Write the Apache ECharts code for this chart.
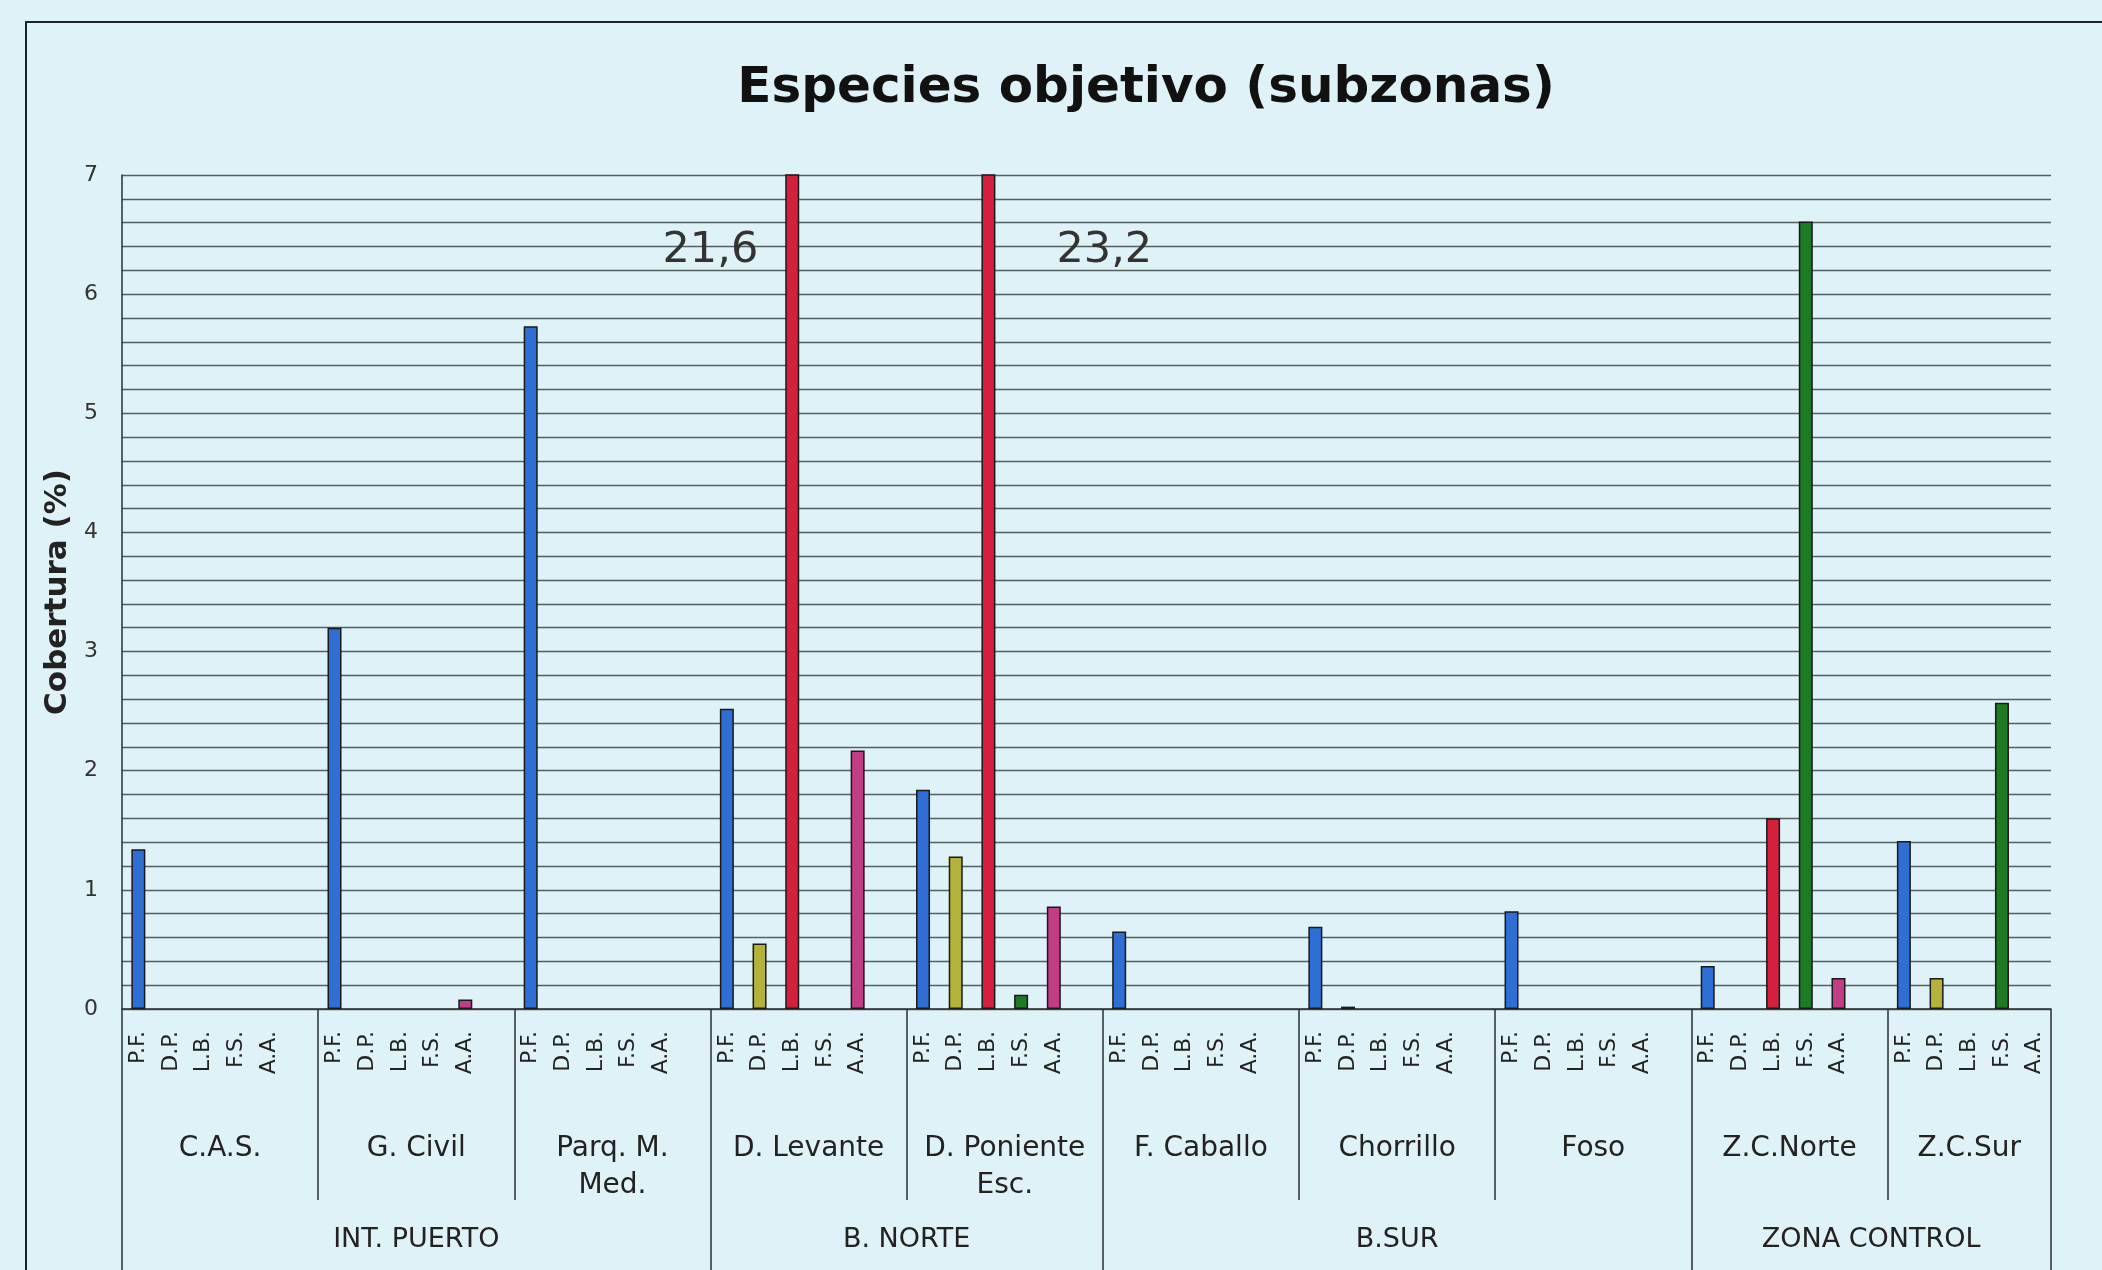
<!DOCTYPE html>
<html>
<head>
<meta charset="utf-8">
<title>Especies objetivo (subzonas)</title>
<script src="https://cdn.jsdelivr.net/npm/echarts@6/dist/echarts.min.js"></script>
<style>
  html, body { margin: 0; padding: 0; background: #dff2f7; }
  #chart { width: 2102px; height: 1270px; }
</style>
</head>
<body>
<div id="chart"></div>
<script>
// species codes shown under each bar
const species = ['P.F.', 'D.P.', 'L.B.', 'F.S.', 'A.A.'];
const speciesColors = ['#2f6fd4', '#b4b23a', '#d3213d', '#1d7a25', '#c23c86'];

// subzones (second row) and zones (third row)
const subzones = ['C.A.S.', 'G. Civil', 'Parq. M.\nMed.', 'D. Levante', 'D. Poniente\nEsc.',
  'F. Caballo', 'Chorrillo', 'Foso', 'Z.C.Norte', 'Z.C.Sur'];
const zones = ['INT. PUERTO', 'B. NORTE', 'B.SUR', 'ZONA CONTROL'];
const subzonesPerZone = [3, 2, 3, 2];

// cobertura (%) per species, one value per subzone
const pf = [1.34, 3.20, 5.73, 2.52, 1.84, 0.65, 0.69, 0.82, 0.36, 1.41];
const dp = [0, 0, 0, 0.55, 1.28, 0, 0.02, 0, 0, 0.26];
const lb = [0, 0, 0, 21.6, 23.2, 0, 0, 0, 1.60, 0];
const fs = [0, 0, 0, 0, 0.12, 0, 0, 0, 6.61, 2.57];
const aa = [0, 0.08, 0, 2.17, 0.86, 0, 0, 0, 0.26, 0];

const yTicks = [0, 1, 2, 3, 4, 5, 6, 7];
const yMax = 7;

const values = [pf, dp, lb, fs, aa];
// side where the value of a bar taller than the axis is written
const overflowSides = ['left', 'right'];

// one category per bar, plus an empty slot between subzones
const categories = [];
const barData = [];
const subStart = [];
let overflowCount = 0;
subzones.forEach((name, i) => {
  subStart.push(categories.length);
  species.forEach((sp, k) => {
    const v = values[k][i];
    categories.push(sp);
    if (!v) {
      // zero: nothing drawn in the original
      barData.push('-');
      return;
    }
    const item = { value: v, itemStyle: { color: speciesColors[k] } };
    if (v > yMax) {
      const side = overflowSides[overflowCount++];
      item.label = {
        show: true,
        position: side === 'left' ? [-27, 77] : [75, 77],
        align: side === 'left' ? 'right' : 'left',
        verticalAlign: 'middle',
        formatter: p => String(p.value).replace('.', ','),
        fontFamily: 'DejaVu Sans',
        fontSize: 43,
        color: '#333'
      };
    }
    barData.push(item);
  });
  if (i < subzones.length - 1) {
    categories.push('');
    barData.push('-');
  }
});
const slotCount = categories.length;

// subzone boundaries and label centres on a 0..slotCount scale
const subEdges = subStart.concat([slotCount]);
const subCenters = subzones.map((_, i) => (subEdges[i] + subEdges[i + 1]) / 2);

const zoneEdges = [0];
let acc = 0;
subzonesPerZone.forEach(n => {
  acc += n;
  zoneEdges.push(subEdges[acc]);
});
const zoneCenters = zones.map((_, i) => (zoneEdges[i] + zoneEdges[i + 1]) / 2);

const gridTop = 175;
const gridBottom = 261;
const subRowOffset = 191;
const zoneRowOffset = 281;

const font = 'DejaVu Sans';
const chart = echarts.init(document.getElementById('chart'));

chart.setOption({
  backgroundColor: '#dff2f7',
  animation: false,
  title: {
    text: 'Especies objetivo (subzonas)',
    left: 1141,
    top: 84,
    textAlign: 'center',
    textVerticalAlign: 'middle',
    textStyle: { fontFamily: font, fontWeight: 'bold', fontSize: 50, color: '#111' }
  },
  graphic: [{
    type: 'rect',
    shape: { x: 26, y: 22, width: 2200, height: 1400 },
    style: { fill: null, stroke: '#1e2426', lineWidth: 2 },
    silent: true
  }],
  grid: {
    left: 122, right: 51, top: gridTop, bottom: gridBottom,
    containLabel: false,
    outerBoundsMode: 'none'
  },
  xAxis: [{
    type: 'category',
    data: categories,
    axisLine: { lineStyle: { color: '#2a3033', width: 1.5 } },
    axisTick: { show: false },
    axisLabel: {
      interval: 0, rotate: 90, margin: 22,
      fontFamily: font, fontSize: 22, color: '#222'
    },
    splitLine: { show: false }
  }, {
    type: 'value',
    min: 0, max: slotCount,
    position: 'bottom',
    offset: subRowOffset,
    axisLine: { show: false },
    splitLine: { show: false },
    axisTick: {
      show: true, inside: true, length: subRowOffset,
      customValues: subEdges,
      lineStyle: { color: '#2a3033', width: 1.5 }
    },
    axisLabel: {
      show: true, inside: true, margin: 70,
      customValues: subCenters,
      verticalAlign: 'top',
      formatter: v => subzones[subCenters.indexOf(v)] || '',
      fontFamily: font, fontSize: 28, lineHeight: 37, color: '#222'
    }
  }, {
    type: 'value',
    min: 0, max: slotCount,
    position: 'bottom',
    offset: zoneRowOffset,
    axisLine: { show: false },
    splitLine: { show: false },
    axisTick: {
      show: true, inside: true, length: zoneRowOffset,
      customValues: zoneEdges,
      lineStyle: { color: '#2a3033', width: 1.5 }
    },
    axisLabel: {
      show: true, inside: true, margin: 50,
      customValues: zoneCenters,
      verticalAlign: 'middle',
      formatter: v => zones[zoneCenters.indexOf(v)] || '',
      fontFamily: font, fontSize: 27, color: '#222'
    }
  }],
  yAxis: {
    type: 'value',
    min: yTicks[0], max: yTicks[yTicks.length - 1], interval: 1,
    name: 'Cobertura (%)',
    nameLocation: 'middle',
    nameRotate: 90,
    nameGap: 48,
    nameTextStyle: { fontFamily: font, fontWeight: 'bold', fontSize: 31, color: '#222' },
    axisLine: { show: true, lineStyle: { color: '#2a3033', width: 1.5 } },
    axisTick: { show: false },
    axisLabel: { margin: 24, fontFamily: font, fontSize: 22, color: '#333' },
    splitLine: { lineStyle: { color: '#52615f', width: 1.3 } },
    minorTick: { show: false, splitNumber: 5 },
    minorSplitLine: { show: true, lineStyle: { color: '#52615f', width: 1.3 } }
  },
  series: [{
    type: 'bar',
    xAxisIndex: 0,
    data: barData,
    barWidth: 14,
    clip: true,
    itemStyle: { borderColor: '#1a1a1a', borderWidth: 1.5 }
  }]
});
</script>
</body>
</html>
